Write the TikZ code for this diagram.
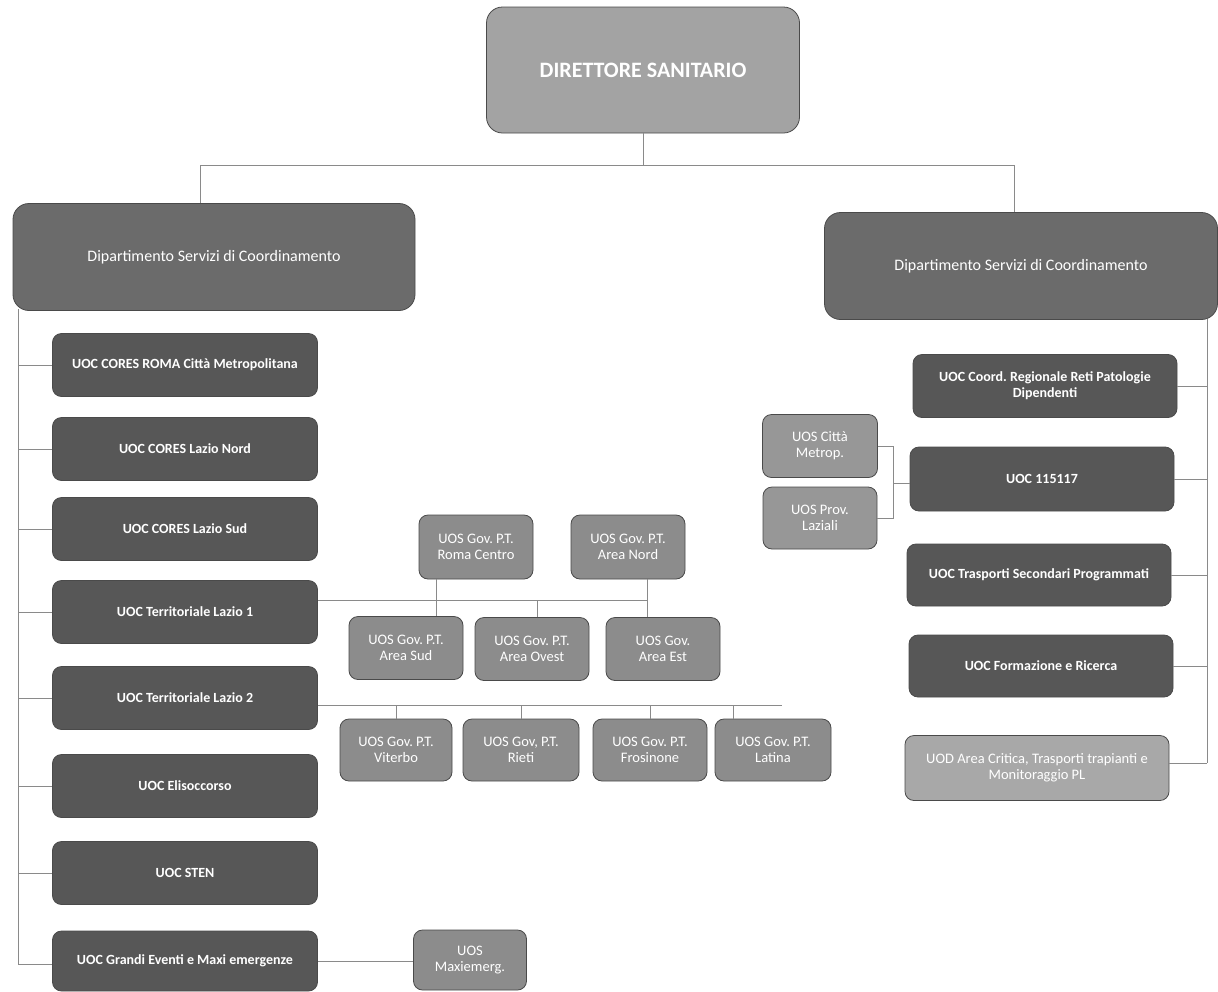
\documentclass[tikz,border=0pt]{standalone}
\usepackage{fontspec}
\setmainfont{Carlito}
\definecolor{dirgray}{HTML}{A3A3A3}
\definecolor{deptgray}{HTML}{6B6B6B}
\definecolor{uocgray}{HTML}{575757}
\definecolor{uosgray}{HTML}{8C8C8C}
\definecolor{uodgray}{HTML}{A8A8A8}
\definecolor{edgegray}{HTML}{4A4A4A}
\definecolor{linegray}{HTML}{8A8A8A}
\frenchspacing
\begin{document}
\begin{tikzpicture}[x=1pt,y=-1pt,
  box/.style={draw=edgegray, line width=0.8pt, rounded corners=9pt, text=white,
    align=center, inner sep=2pt, font=\fontsize{14.5}{16}\selectfont},
  dirbox/.style={box, fill=dirgray, rounded corners=16pt, minimum width=313pt,
    minimum height=126pt, font=\bfseries\fontsize{22}{24}\selectfont},
  deptbox/.style={box, fill=deptgray, rounded corners=16pt, minimum height=107pt,
    font=\fontsize{16}{18}\selectfont},
  uocbox/.style={box, fill=uocgray, minimum width=265pt, minimum height=63pt,
    font=\bfseries\fontsize{14}{16}\selectfont},
  uosbox/.style={box, fill=uosgray, minimum width=114pt, minimum height=63pt},
  link/.style={draw=linegray, line width=0.9pt}
]
\useasboundingbox (0,0) rectangle (1218,991);

% top level
\node[dirbox] (dir) at (643,70) {DIRETTORE SANITARIO};
\node[deptbox, minimum width=402pt] (deptL) at (214,257) {Dipartimento Servizi di Coordinamento};
\node[deptbox, minimum width=393pt] (deptR) at (1021,266) {Dipartimento Servizi di Coordinamento};

% left column of UOC
\node[uocbox] (u1) at (185,365) {UOC CORES ROMA Città Metropolitana};
\node[uocbox] (u2) at (185,449) {UOC CORES Lazio Nord};
\node[uocbox] (u3) at (185,529) {UOC CORES Lazio Sud};
\node[uocbox] (u4) at (185,612) {UOC Territoriale Lazio 1};
\node[uocbox] (u5) at (185,698) {UOC Territoriale Lazio 2};
\node[uocbox] (u6) at (185,786) {UOC Elisoccorso};
\node[uocbox] (u7) at (185,873) {UOC STEN};
\node[uocbox, minimum height=60pt] (u8) at (185,961) {UOC Grandi Eventi e Maxi emergenze};

% right column
\node[uocbox, minimum width=264pt] (r1) at (1045,386) {UOC Coord. Regionale Reti Patologie\\Dipendenti};
\node[uocbox, minimum width=264pt, minimum height=64pt] (r2) at (1042,479) {UOC 115117};
\node[uocbox, minimum width=264pt, minimum height=62pt] (r3) at (1039,575) {UOC Trasporti Secondari Programmati};
\node[uocbox, minimum width=264pt, minimum height=62pt] (r4) at (1041,666) {UOC Formazione e Ricerca};
\node[box, fill=uodgray, minimum width=264pt, minimum height=65pt] (r5) at (1037,768) {UOD Area Critica, Trasporti trapianti e\\Monitoraggio PL};

% UOS of UOC 115117
\node[uosbox, fill=uodgray!90!black, minimum width=115pt] (citta) at (820,446) {UOS Città\\Metrop.};
\node[uosbox, fill=uodgray!90!black, minimum height=62pt] (prov) at (820,518) {UOS Prov.\\Laziali};

% UOS of Territoriale Lazio 1
\node[uosbox, minimum height=64pt] (rmc) at (476,547) {UOS Gov. P.T.\\Roma Centro};
\node[uosbox, minimum height=64pt] (anord) at (628,547) {UOS Gov. P.T.\\Area Nord};
\node[uosbox] (asud) at (406,648) {UOS Gov. P.T.\\Area Sud};
\node[uosbox] (aovest) at (532,649) {UOS Gov. P.T.\\Area Ovest};
\node[uosbox] (aest) at (663,649) {UOS Gov.\\Area Est};

% UOS of Territoriale Lazio 2
\node[uosbox, minimum width=112pt, minimum height=62pt] (vit) at (396,750) {UOS Gov. P.T.\\Viterbo};
\node[uosbox, minimum width=116pt, minimum height=62pt] (rie) at (521,750) {UOS Gov, P.T.\\Rieti};
\node[uosbox, minimum height=62pt] (fro) at (650,750) {UOS Gov. P.T.\\Frosinone};
\node[uosbox, minimum width=116pt, minimum height=62pt] (lat) at (773,750) {UOS Gov. P.T.\\Latina};

% UOS of Grandi Eventi
\node[uosbox, minimum width=113pt, minimum height=60pt] (maxi) at (470,960) {UOS\\Maxiemerg.};

% junction points
\coordinate (top) at (643,165);
\coordinate (jL) at (200,165);
\coordinate (jR) at (1014,165);
\coordinate (spL) at (18,309);
\coordinate (spLend) at (18,964);
\coordinate (spR) at (1207,319);
\coordinate (spRend) at (1207,763);
\coordinate (bus1) at (647,600);
\coordinate (bus2) at (782,705);
\coordinate (brk) at (893,483);

% director to departments
\draw[link] (dir.south) -- (top);
\draw[link] (jL) -- (jR);
\draw[link] (jL) -- (jL |- deptL.north);
\draw[link] (jR) -- (jR |- deptR.north);

% left spine
\draw[link] (spL) -- (spLend);
\foreach \n in {u1,u2,u3,u4,u5,u6,u7}
  \draw[link] (spL |- \n.west) -- (\n.west);
\draw[link] (spLend) -- (u8.west |- spLend);

% right spine
\draw[link] (spR) -- (spRend);
\foreach \n in {r1,r2,r3,r4}
  \draw[link] (\n.east) -- (spR |- \n.east);
\draw[link] (r5.east |- spRend) -- (spRend);

% Territoriale Lazio 1 branch
\draw[link] (u4.east |- bus1) -- (bus1);
\draw[link] ([xshift=-40pt]rmc.south) -- ([xshift=-40pt]rmc.south |- asud.north);
\draw[link] ([xshift=19pt]anord.south) -- ([xshift=19pt]anord.south |- aest.north);
\draw[link] ([xshift=5pt]aovest.north) -- ([xshift=5pt]aovest.north |- bus1);

% Territoriale Lazio 2 branch
\draw[link] (u5.east |- bus2) -- (bus2);
\draw[link] (vit.north) -- (vit.north |- bus2);
\draw[link] (rie.north) -- (rie.north |- bus2);
\draw[link] (fro.north) -- (fro.north |- bus2);
\draw[link] ([xshift=-40pt]lat.north) -- ([xshift=-40pt]lat.north |- bus2);

% UOC 115117 bracket
\draw[link] (citta.east) -| (brk) |- (prov.east);
\draw[link] (brk) -- (r2.west |- brk);

% Grandi Eventi to Maxiemerg
\draw[link] (u8.east) -- (maxi.west |- u8.east);
\end{tikzpicture}
\end{document}
